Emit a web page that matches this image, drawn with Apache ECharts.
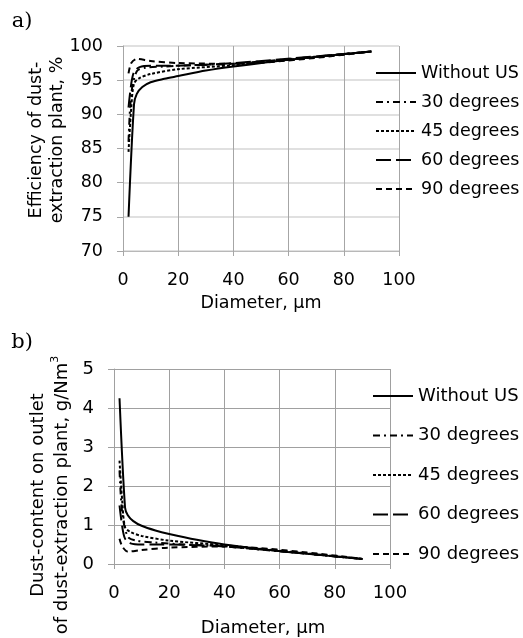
<!DOCTYPE html>
<html>
<head>
<meta charset="utf-8">
<script src="https://cdn.jsdelivr.net/npm/echarts@6/dist/echarts.min.js"></script>
<style>
html,body{margin:0;padding:0;background:#fff;}
#chart{width:523px;height:638px;}
</style>
</head>
<body>
<div id="chart"></div>
<script>
// ---------- data ----------
const seriesNames = ['Without US', '30 degrees', '45 degrees', '60 degrees', '90 degrees'];
const xTicks = [0, 20, 40, 60, 80, 100];
const effTicks = [70, 75, 80, 85, 90, 95, 100];
const dustTicks = [0, 1, 2, 3, 4, 5];

// a) efficiency, %
const effX_without = [2, 4, 5, 7, 10, 15, 20, 30, 40, 60, 90];
const eff_without  = [75, 91.5, 93, 94, 94.7, 95.2, 95.6, 96.4, 97, 98, 99.2];
const effX_30 = [2, 3, 5, 8, 15, 25, 40, 90];
const eff_30  = [86, 93, 96.3, 96.8, 97, 97.2, 97.4, 99.2];
const effX_45 = [2, 3, 4, 6, 10, 20, 40, 90];
const eff_45  = [84.5, 91, 94.5, 95.3, 95.9, 96.6, 97.2, 99.2];
const effX_60 = [2, 3, 4, 6, 10, 15, 40, 90];
const eff_60  = [91, 94.5, 96.2, 96.9, 97.1, 97.1, 97.5, 99.2];
const effX_90 = [2, 3, 5, 10, 20, 40, 90];
const eff_90  = [96, 97.5, 98.1, 97.8, 97.5, 97.4, 99.2];

// b) dust content, g/Nm3
const dustX_without = [2, 4, 5, 7, 10, 15, 20, 30, 40, 60, 90];
const dust_without  = [4.25, 1.45, 1.25, 1.1, 0.98, 0.86, 0.77, 0.62, 0.5, 0.33, 0.13];
const dustX_30 = [2, 3, 5, 8, 15, 25, 40, 90];
const dust_30  = [2.4, 1.3, 0.7, 0.6, 0.55, 0.5, 0.45, 0.13];
const dustX_45 = [2, 3, 4, 6, 10, 20, 40, 90];
const dust_45  = [2.65, 1.6, 0.95, 0.82, 0.72, 0.6, 0.48, 0.13];
const dustX_60 = [2, 3, 4, 6, 10, 15, 40, 90];
const dust_60  = [1.5, 0.95, 0.65, 0.53, 0.5, 0.5, 0.45, 0.13];
const dustX_90 = [2, 3, 5, 10, 20, 40, 90];
const dust_90  = [0.65, 0.45, 0.32, 0.36, 0.42, 0.45, 0.13];

// ---------- build ----------
const zip = (xs, ys) => xs.map((x, i) => [x, ys[i]]);
const dashTypes = ['solid', [7, 4, 2, 4], [3, 2], [15, 5], [6, 4]];
const effData = [zip(effX_without, eff_without), zip(effX_30, eff_30), zip(effX_45, eff_45), zip(effX_60, eff_60), zip(effX_90, eff_90)];
const dustData = [zip(dustX_without, dust_without), zip(dustX_30, dust_30), zip(dustX_45, dust_45), zip(dustX_60, dust_60), zip(dustX_90, dust_90)];

const FONT = 'DejaVu Sans';
function mkSeries(data, gi) {
  return data.map((d, i) => ({
    name: seriesNames[i], type: 'line', xAxisIndex: gi, yAxisIndex: gi,
    data: d, showSymbol: false, symbol: 'none', symbolSize: 0, smooth: 0.3,
    lineStyle: { color: '#000', width: 2, type: dashTypes[i] },
    itemStyle: { color: '#000' }, z: 3
  }));
}

const chart = echarts.init(document.getElementById('chart'), null, { renderer: 'canvas' });
chart.setOption({
  animation: false,
  backgroundColor: '#fff',
  grid: [
    { left: 123, top: 46, width: 276, height: 205 },
    { left: 114, top: 369, width: 276, height: 204 }
  ],
  xAxis: [
    { gridIndex: 0, type: 'value', min: xTicks[0], max: xTicks[xTicks.length - 1], interval: 20,
      axisLine: { show: true, onZero: false, lineStyle: { color: '#b8b8b8', width: 1 } },
      axisTick: { show: true, inside: false, length: 5, lineStyle: { color: '#a6a6a6' } },
      axisLabel: { margin: 20, fontFamily: FONT, fontSize: 17.5, color: '#000' },
      splitLine: { show: true, lineStyle: { color: '#a6a6a6', width: 1 } },
      name: 'Diameter, μm', nameLocation: 'middle', nameGap: 43,
      nameTextStyle: { fontFamily: FONT, fontSize: 17.5, color: '#000' } },
    { gridIndex: 1, type: 'value', min: xTicks[0], max: xTicks[xTicks.length - 1], interval: 20,
      axisLine: { show: true, onZero: false, lineStyle: { color: '#a0a0a0', width: 1 } },
      axisTick: { show: true, inside: false, length: 5, lineStyle: { color: '#a0a0a0' } },
      axisLabel: { margin: 20, fontFamily: FONT, fontSize: 18, color: '#000' },
      splitLine: { show: true, lineStyle: { color: '#a0a0a0', width: 1 } },
      name: 'Diameter, μm', nameLocation: 'middle', nameGap: 55,
      nameTextStyle: { fontFamily: FONT, fontSize: 18, color: '#000', padding: [0, 0, 0, 22] } }
  ],
  yAxis: [
    { gridIndex: 0, type: 'value', min: effTicks[0], max: effTicks[effTicks.length - 1], interval: 5,
      axisLine: { show: true, onZero: false, lineStyle: { color: '#a6a6a6', width: 1 } },
      axisTick: { show: true, inside: false, length: 6, lineStyle: { color: '#a6a6a6' } },
      axisLabel: { margin: 20, fontFamily: FONT, fontSize: 17.5, color: '#000' },
      splitLine: { show: true, lineStyle: { color: '#d6d6d6', width: 1.6 } } },
    { gridIndex: 1, type: 'value', min: dustTicks[0], max: dustTicks[dustTicks.length - 1], interval: 1,
      axisLine: { show: true, onZero: false, lineStyle: { color: '#a0a0a0', width: 1 } },
      axisTick: { show: true, inside: false, length: 6, lineStyle: { color: '#a0a0a0' } },
      axisLabel: { margin: 20, fontFamily: FONT, fontSize: 18, color: '#000' },
      splitLine: { show: true, lineStyle: { color: '#a0a0a0', width: 1 } } }
  ],
  legend: [
    { data: seriesNames, orient: 'vertical', left: 370, top: 59, itemWidth: 40, itemHeight: 18,
      itemGap: 11, selectedMode: false, backgroundColor: 'transparent',
      itemStyle: { opacity: 0 }, lineStyle: { width: 2 },
      textStyle: { fontFamily: FONT, fontSize: 17.5, color: '#000', lineHeight: 18 } },
    { data: seriesNames, orient: 'vertical', left: 367, top: 382, itemWidth: 40, itemHeight: 18,
      itemGap: 21.5, selectedMode: false, backgroundColor: 'transparent',
      itemStyle: { opacity: 0 }, lineStyle: { width: 2 },
      textStyle: { fontFamily: FONT, fontSize: 18, color: '#000', lineHeight: 18 } }
  ],
  graphic: [
    { type: 'text', x: 22, y: 22, style: { text: 'a)', fontFamily: 'DejaVu Serif', fontSize: 21, fill: '#000', align: 'center', verticalAlign: 'middle' } },
    { type: 'text', x: 22, y: 343, style: { text: 'b)', fontFamily: 'DejaVu Serif', fontSize: 21, fill: '#000', align: 'center', verticalAlign: 'middle' } },
    { type: 'text', x: 46.5, y: 140, rotation: Math.PI / 2,
      style: { text: 'Efficiency of dust-\nextraction plant, %', fontFamily: FONT, fontSize: 17.5, lineHeight: 21,
               fill: '#000', align: 'center', verticalAlign: 'middle' } },
    { type: 'text', x: 50, y: 495, rotation: Math.PI / 2,
      style: { text: 'Dust-content on outlet\nof dust-extraction plant, g/Nm{sup|3}', fontFamily: FONT, fontSize: 18, lineHeight: 24,
               fill: '#000', align: 'center', verticalAlign: 'middle',
               rich: { sup: { fontFamily: FONT, fontSize: 11, lineHeight: 12, verticalAlign: 'top', fill: '#000' } } } }
  ],
  series: mkSeries(effData, 0).concat(mkSeries(dustData, 1))
});
</script>
</body>
</html>
